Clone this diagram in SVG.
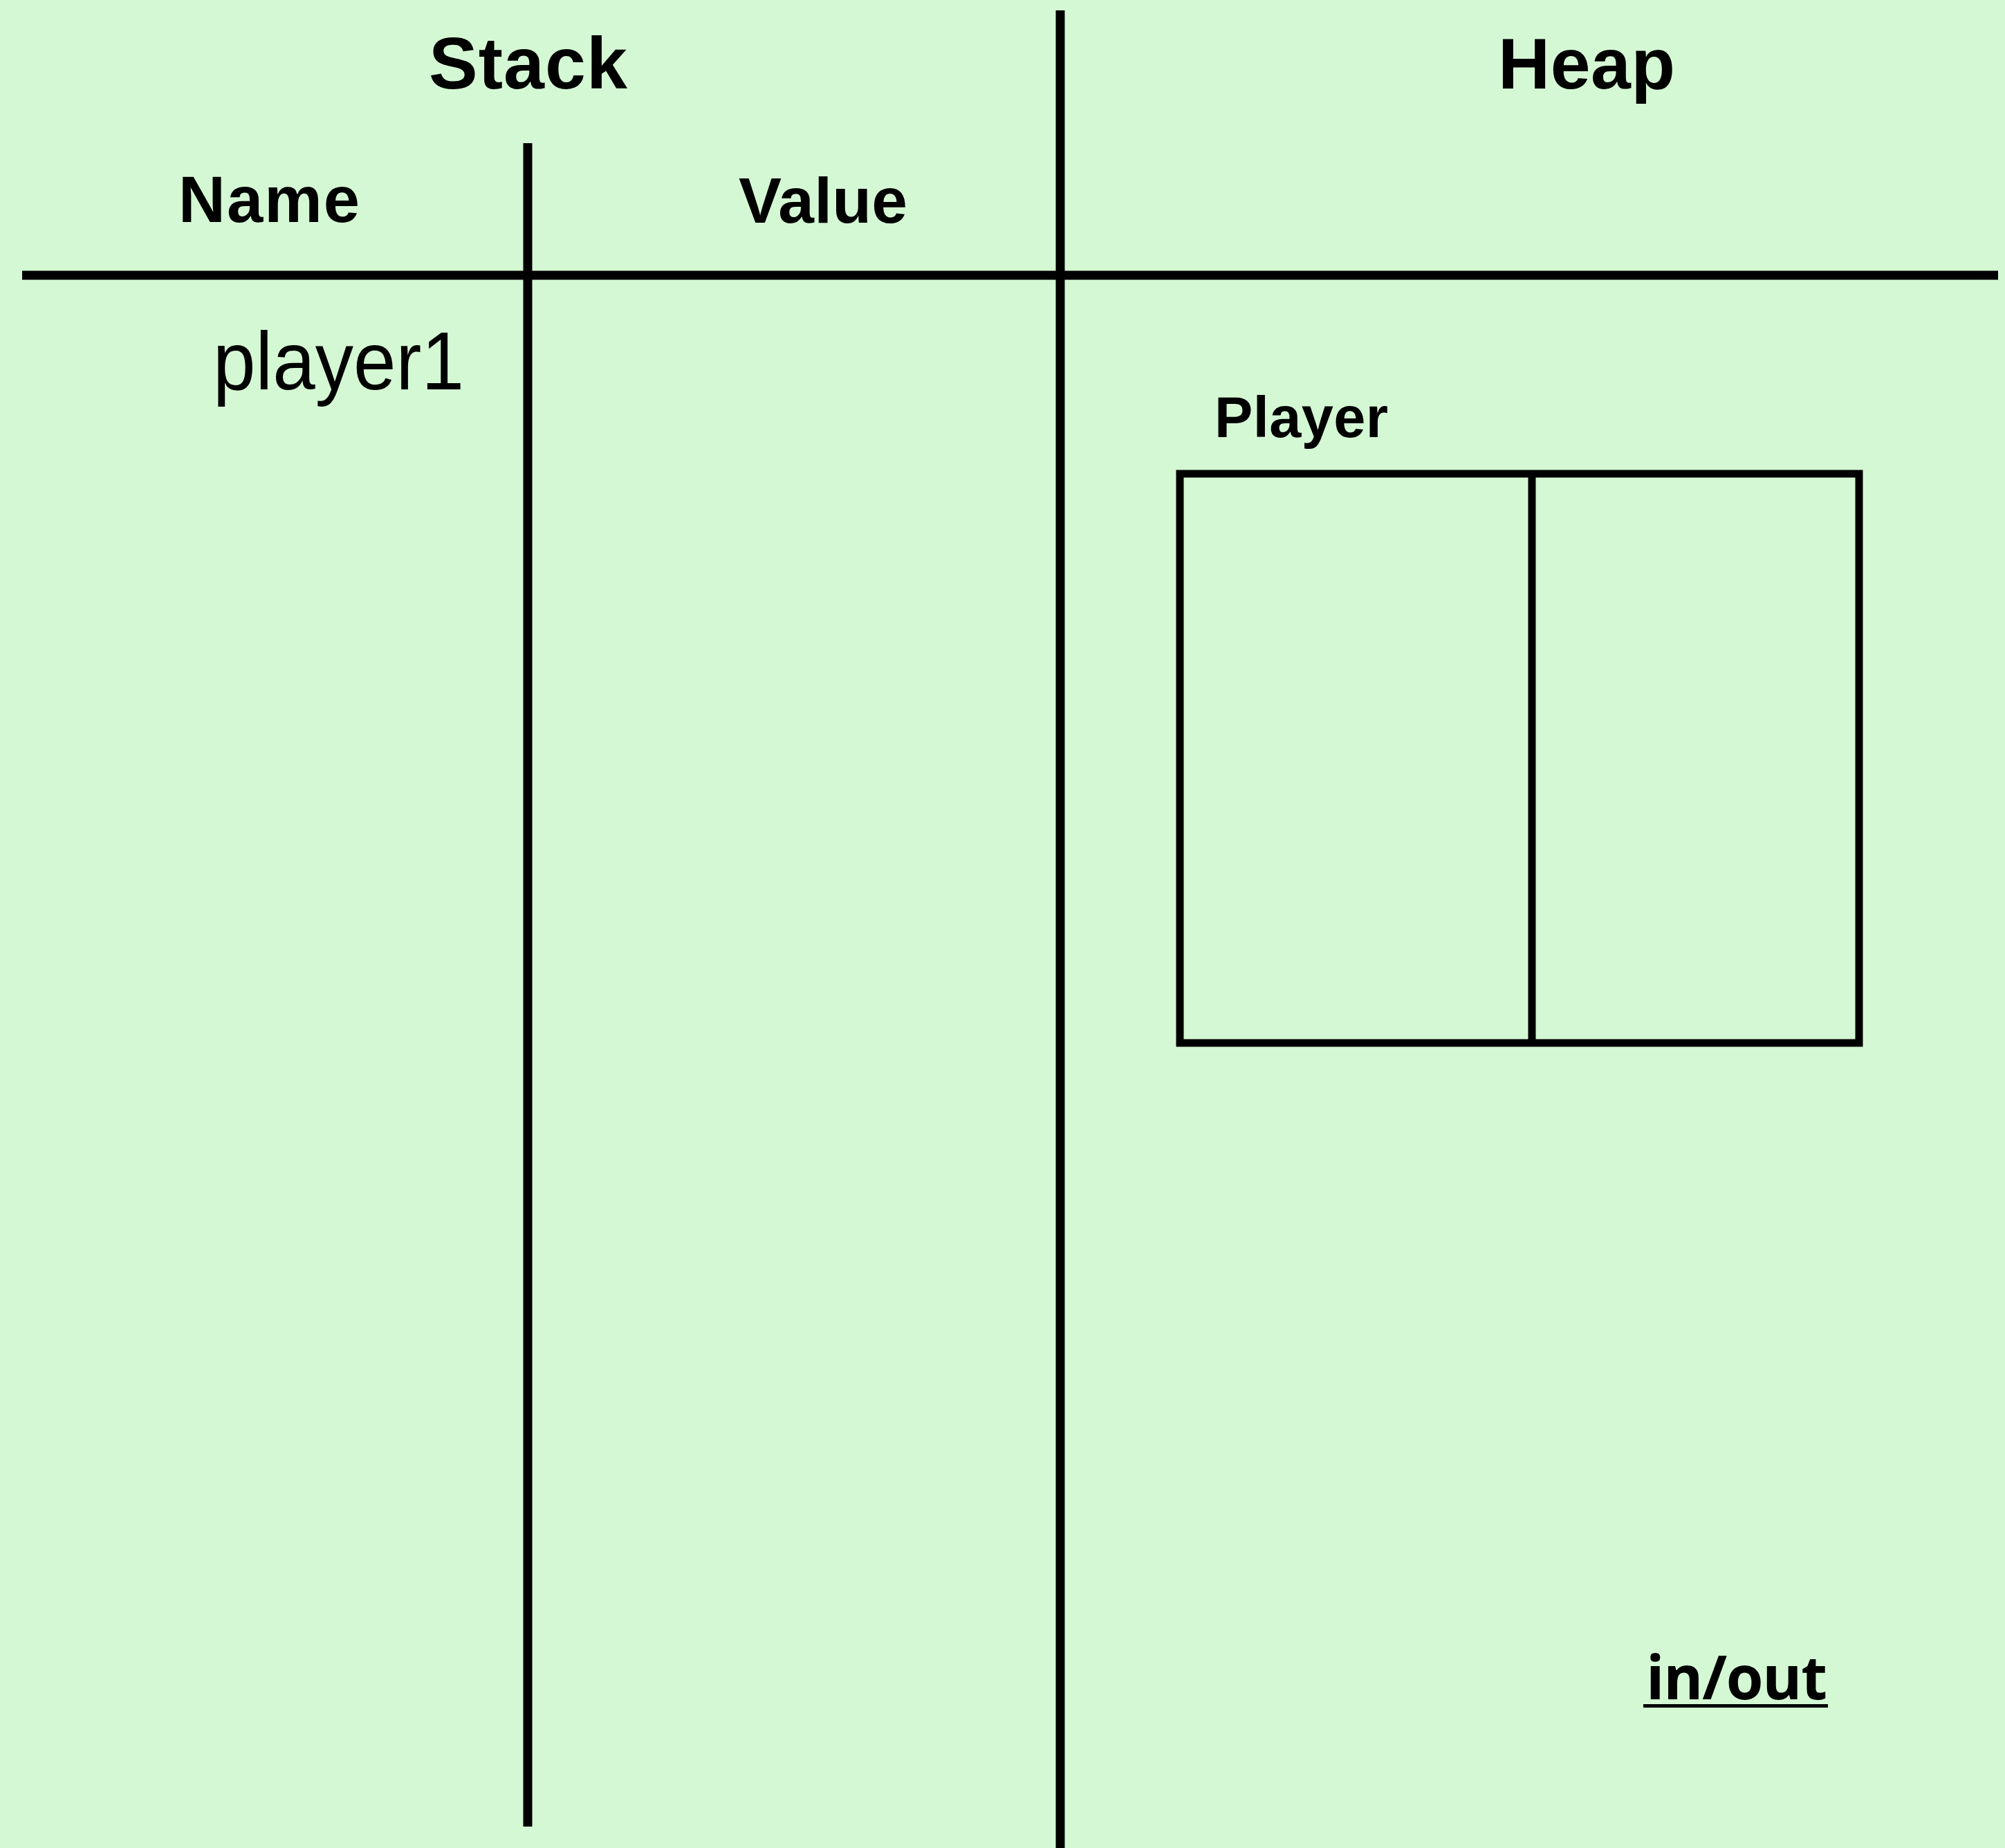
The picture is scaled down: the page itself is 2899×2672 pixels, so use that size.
<svg xmlns="http://www.w3.org/2000/svg" width="2899" height="2672" viewBox="0 0 2899 2672">
<style>
.ln{stroke:#000;stroke-width:13;fill:none}
.hd{font-family:"Liberation Sans",Arial,sans-serif;font-weight:bold;fill:#000}
.bx{stroke:#000;stroke-width:11;fill:none}
</style>
<rect x="0" y="0" width="2899" height="2672" fill="#D4F8D4"/>
<g id="connectors">
<line class="ln" x1="32" y1="398" x2="2889" y2="398"/>
<line class="ln" x1="1533" y1="15" x2="1533" y2="2672"/>
<line class="ln" x1="763" y1="207" x2="763" y2="2641"/>
</g>
<g id="stack-title"><text class="hd" x="620" y="128" font-size="106" textLength="287">Stack</text></g>
<g id="heap-title"><text class="hd" x="2166" y="128" font-size="104" textLength="256">Heap</text></g>
<g id="name-header"><text class="hd" x="258" y="321" font-size="94" textLength="262">Name</text></g>
<g id="value-header"><text class="hd" x="1068" y="322" font-size="93" textLength="244">Value</text></g>
<g id="player1"><text x="308" y="563" font-family="'Liberation Sans',Arial,sans-serif" font-size="119" fill="#000" textLength="363" lengthAdjust="spacingAndGlyphs">player1</text></g>
<g id="player-object">
<text class="hd" x="1756" y="632" font-size="83" textLength="251">Player</text>
<rect class="bx" x="1706" y="685" width="982" height="823"/>
<line class="bx" x1="2215" y1="685" x2="2215" y2="1508"/>
</g>
<g id="inout">
<text x="2380" y="2457" font-family="'Open Sans','DejaVu Sans',sans-serif" font-weight="bold" font-size="87" fill="#000" textLength="262">in/out</text>
<line x1="2376" y1="2466.5" x2="2643" y2="2466.5" stroke="#000" stroke-width="5"/>
</g>
</svg>
